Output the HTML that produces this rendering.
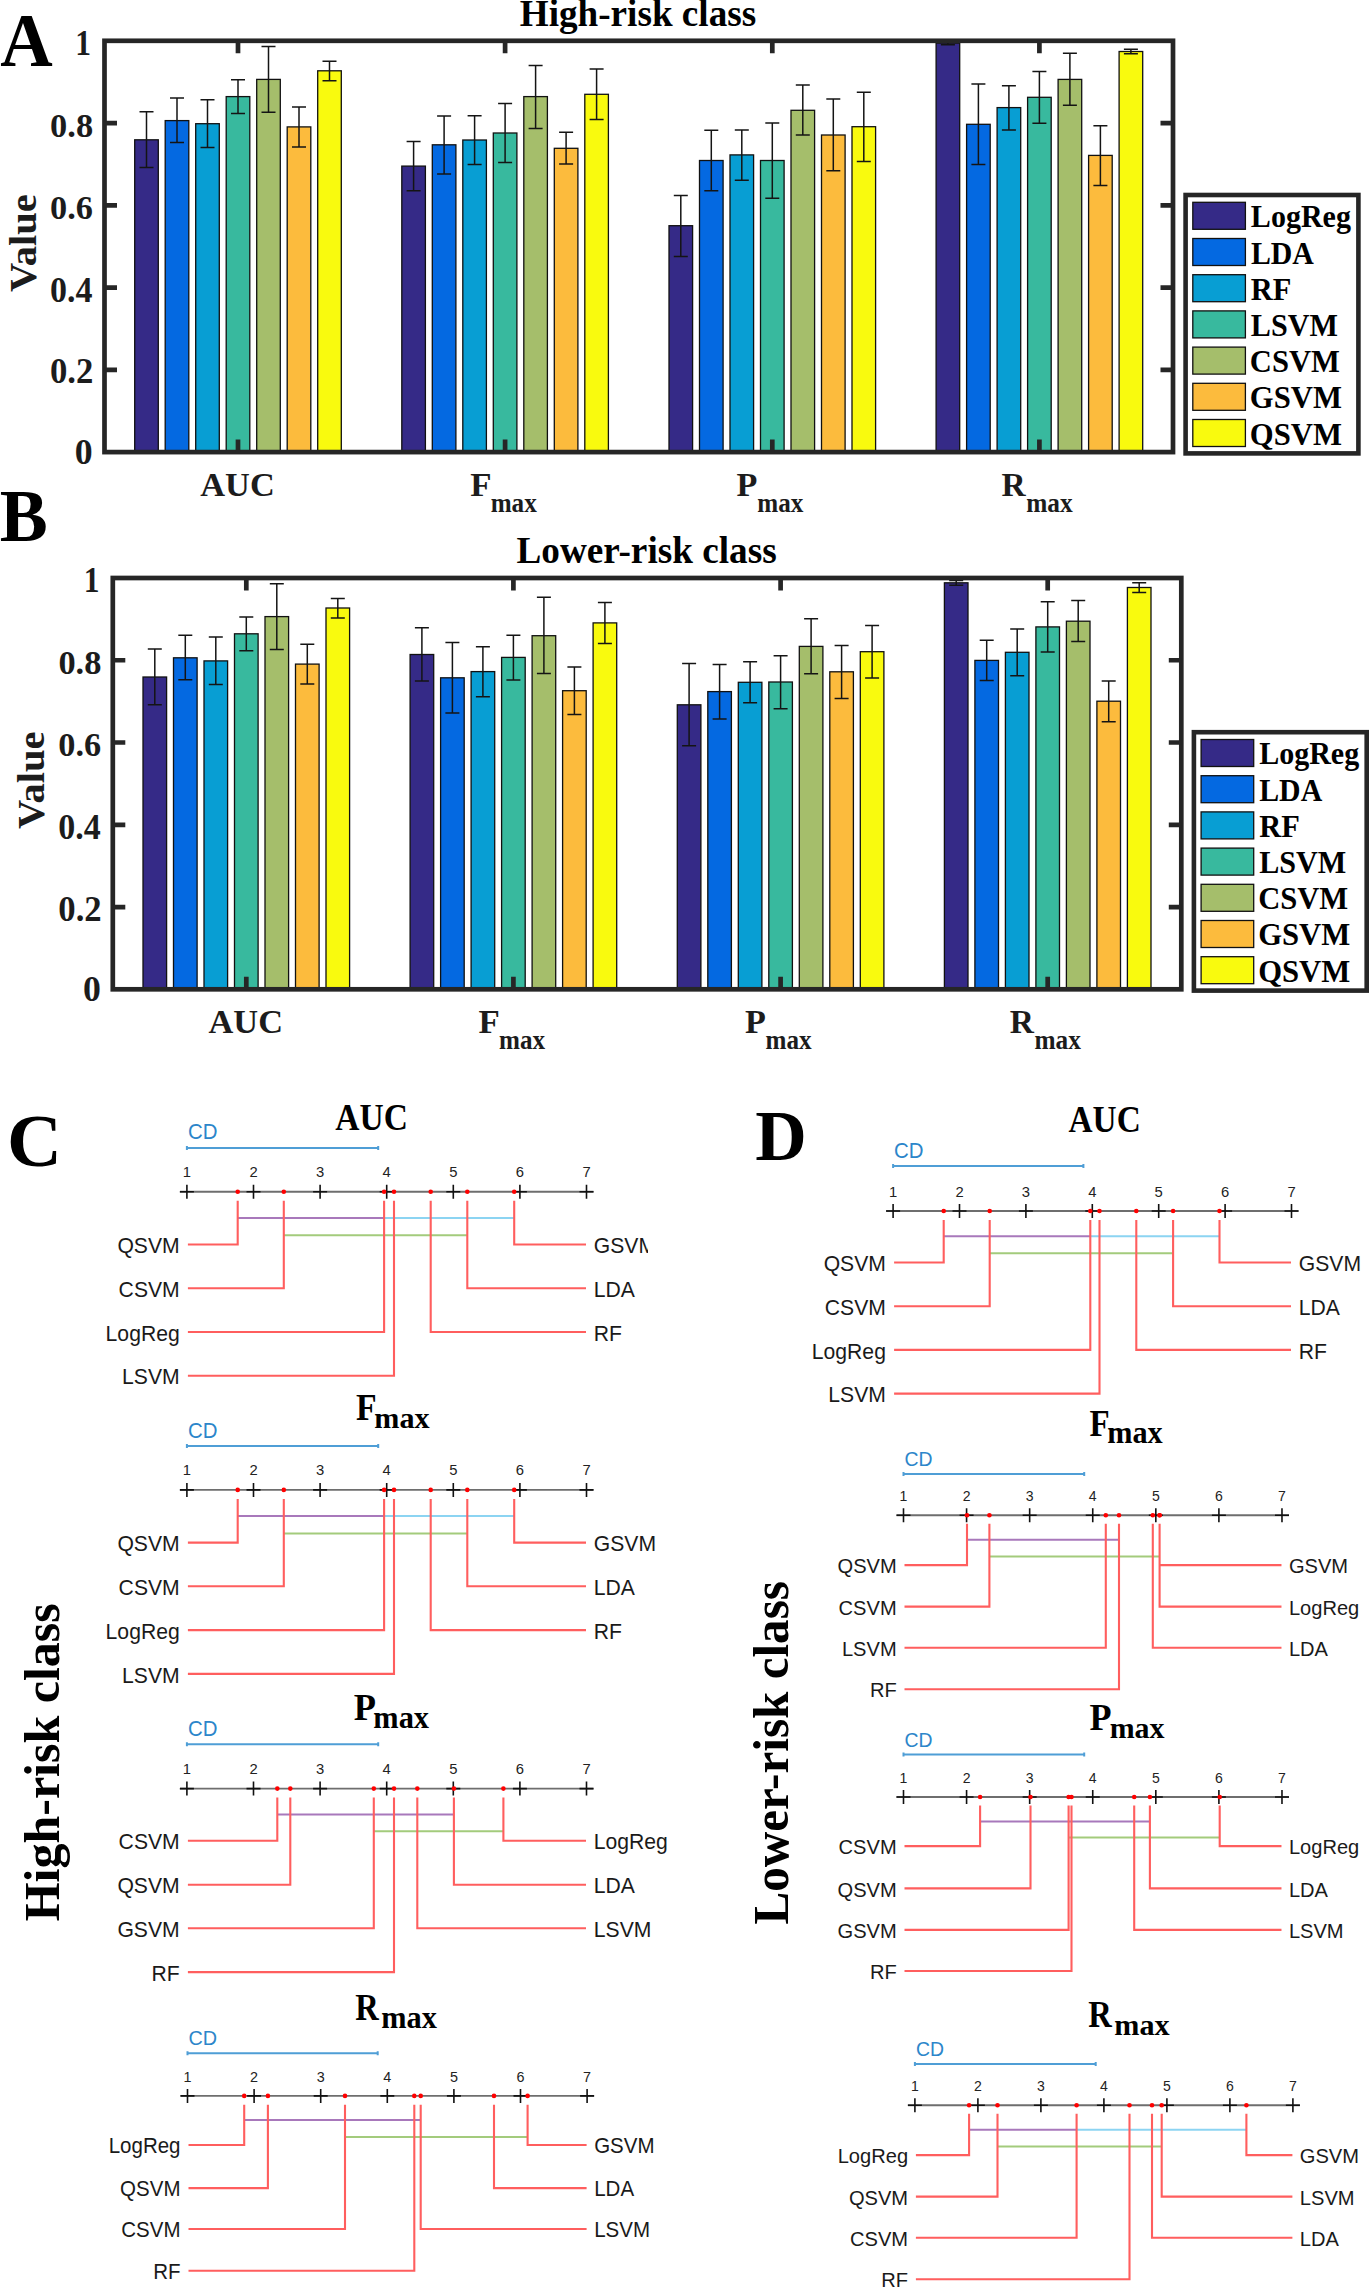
<!DOCTYPE html><html><head><meta charset="utf-8"><style>html,body{margin:0;padding:0;background:#fff;}svg{display:block;}</style></head><body>
<svg width="1370" height="2289" viewBox="0 0 1370 2289">
<defs><clipPath id="clipC"><rect x="0" y="1080" width="648" height="320"/></clipPath></defs>
<rect width="1370" height="2289" fill="#fff"/>
<text x="0.17" y="65.8" font-family='"Liberation Serif", serif' font-size="75.61" font-weight="bold" text-anchor="start" fill="#000" textLength="52.45" lengthAdjust="spacingAndGlyphs">A</text>
<text x="-0.16" y="541.2" font-family='"Liberation Serif", serif' font-size="74.05" font-weight="bold" text-anchor="start" fill="#000" textLength="48" lengthAdjust="spacingAndGlyphs">B</text>
<g transform="translate(0,0)">
<rect x="134.7" y="139.8" width="23.6" height="312.3" fill="#352a87" stroke="#111" stroke-width="1.3"/>
<rect x="165.2" y="120.6" width="23.6" height="331.5" fill="#0469e1" stroke="#111" stroke-width="1.3"/>
<rect x="195.7" y="123.7" width="23.6" height="328.4" fill="#089ed3" stroke="#111" stroke-width="1.3"/>
<rect x="226.2" y="96.6" width="23.6" height="355.5" fill="#38b99e" stroke="#111" stroke-width="1.3"/>
<rect x="256.7" y="79.4" width="23.6" height="372.7" fill="#a5be6b" stroke="#111" stroke-width="1.3"/>
<rect x="287.2" y="126.9" width="23.6" height="325.2" fill="#fcbb3d" stroke="#111" stroke-width="1.3"/>
<rect x="317.7" y="70.8" width="23.6" height="381.3" fill="#f9fa0e" stroke="#111" stroke-width="1.3"/>
<path d="M146.5 111.8V167.5M139.5 111.8H153.5M139.5 167.5H153.5" stroke="#141414" stroke-width="1.5" fill="none"/>
<path d="M177 98V142.6M170 98H184M170 142.6H184" stroke="#141414" stroke-width="1.5" fill="none"/>
<path d="M207.5 99.7V147.4M200.5 99.7H214.5M200.5 147.4H214.5" stroke="#141414" stroke-width="1.5" fill="none"/>
<path d="M238 79.8V113.6M231 79.8H245M231 113.6H245" stroke="#141414" stroke-width="1.5" fill="none"/>
<path d="M268.5 46.5V112.3M261.5 46.5H275.5M261.5 112.3H275.5" stroke="#141414" stroke-width="1.5" fill="none"/>
<path d="M299 107.1V146.9M292 107.1H306M292 146.9H306" stroke="#141414" stroke-width="1.5" fill="none"/>
<path d="M329.5 61.2V80.8M322.5 61.2H336.5M322.5 80.8H336.5" stroke="#141414" stroke-width="1.5" fill="none"/>
<rect x="401.8" y="166.1" width="23.6" height="286" fill="#352a87" stroke="#111" stroke-width="1.3"/>
<rect x="432.3" y="144.8" width="23.6" height="307.3" fill="#0469e1" stroke="#111" stroke-width="1.3"/>
<rect x="462.8" y="140" width="23.6" height="312.1" fill="#089ed3" stroke="#111" stroke-width="1.3"/>
<rect x="493.3" y="133" width="23.6" height="319.1" fill="#38b99e" stroke="#111" stroke-width="1.3"/>
<rect x="523.8" y="96.6" width="23.6" height="355.5" fill="#a5be6b" stroke="#111" stroke-width="1.3"/>
<rect x="554.3" y="148.3" width="23.6" height="303.8" fill="#fcbb3d" stroke="#111" stroke-width="1.3"/>
<rect x="584.8" y="94.3" width="23.6" height="357.8" fill="#f9fa0e" stroke="#111" stroke-width="1.3"/>
<path d="M413.6 141.6V190.7M406.6 141.6H420.6M406.6 190.7H420.6" stroke="#141414" stroke-width="1.5" fill="none"/>
<path d="M444.1 115.9V174M437.1 115.9H451.1M437.1 174H451.1" stroke="#141414" stroke-width="1.5" fill="none"/>
<path d="M474.6 115.7V164.4M467.6 115.7H481.6M467.6 164.4H481.6" stroke="#141414" stroke-width="1.5" fill="none"/>
<path d="M505.1 103.4V162.6M498.1 103.4H512.1M498.1 162.6H512.1" stroke="#141414" stroke-width="1.5" fill="none"/>
<path d="M535.6 65.4V128.5M528.6 65.4H542.6M528.6 128.5H542.6" stroke="#141414" stroke-width="1.5" fill="none"/>
<path d="M566.1 132.3V163.9M559.1 132.3H573.1M559.1 163.9H573.1" stroke="#141414" stroke-width="1.5" fill="none"/>
<path d="M596.6 68.9V119.4M589.6 68.9H603.6M589.6 119.4H603.6" stroke="#141414" stroke-width="1.5" fill="none"/>
<rect x="669" y="225.7" width="23.6" height="226.4" fill="#352a87" stroke="#111" stroke-width="1.3"/>
<rect x="699.5" y="160.5" width="23.6" height="291.6" fill="#0469e1" stroke="#111" stroke-width="1.3"/>
<rect x="730" y="154.9" width="23.6" height="297.2" fill="#089ed3" stroke="#111" stroke-width="1.3"/>
<rect x="760.5" y="160.5" width="23.6" height="291.6" fill="#38b99e" stroke="#111" stroke-width="1.3"/>
<rect x="791" y="110.3" width="23.6" height="341.8" fill="#a5be6b" stroke="#111" stroke-width="1.3"/>
<rect x="821.5" y="135" width="23.6" height="317.1" fill="#fcbb3d" stroke="#111" stroke-width="1.3"/>
<rect x="852" y="126.7" width="23.6" height="325.4" fill="#f9fa0e" stroke="#111" stroke-width="1.3"/>
<path d="M680.8 195.4V256.4M673.8 195.4H687.8M673.8 256.4H687.8" stroke="#141414" stroke-width="1.5" fill="none"/>
<path d="M711.3 130.2V190.7M704.3 130.2H718.3M704.3 190.7H718.3" stroke="#141414" stroke-width="1.5" fill="none"/>
<path d="M741.8 129.9V180.2M734.8 129.9H748.8M734.8 180.2H748.8" stroke="#141414" stroke-width="1.5" fill="none"/>
<path d="M772.3 123V198.2M765.3 123H779.3M765.3 198.2H779.3" stroke="#141414" stroke-width="1.5" fill="none"/>
<path d="M802.8 85V135.1M795.8 85H809.8M795.8 135.1H809.8" stroke="#141414" stroke-width="1.5" fill="none"/>
<path d="M833.3 99V170.7M826.3 99H840.3M826.3 170.7H840.3" stroke="#141414" stroke-width="1.5" fill="none"/>
<path d="M863.8 92.2V161.4M856.8 92.2H870.8M856.8 161.4H870.8" stroke="#141414" stroke-width="1.5" fill="none"/>
<rect x="936.1" y="43.1" width="23.6" height="409" fill="#352a87" stroke="#111" stroke-width="1.3"/>
<rect x="966.6" y="124.3" width="23.6" height="327.8" fill="#0469e1" stroke="#111" stroke-width="1.3"/>
<rect x="997.1" y="107.6" width="23.6" height="344.5" fill="#089ed3" stroke="#111" stroke-width="1.3"/>
<rect x="1027.6" y="97.3" width="23.6" height="354.8" fill="#38b99e" stroke="#111" stroke-width="1.3"/>
<rect x="1058.1" y="79.4" width="23.6" height="372.7" fill="#a5be6b" stroke="#111" stroke-width="1.3"/>
<rect x="1088.6" y="155.4" width="23.6" height="296.7" fill="#fcbb3d" stroke="#111" stroke-width="1.3"/>
<rect x="1119.1" y="51.5" width="23.6" height="400.6" fill="#f9fa0e" stroke="#111" stroke-width="1.3"/>
<path d="M947.9 41.5V44.8M940.9 41.5H954.9M940.9 44.8H954.9" stroke="#141414" stroke-width="1.5" fill="none"/>
<path d="M978.4 84.1V164.4M971.4 84.1H985.4M971.4 164.4H985.4" stroke="#141414" stroke-width="1.5" fill="none"/>
<path d="M1008.9 85.7V129.9M1001.9 85.7H1015.9M1001.9 129.9H1015.9" stroke="#141414" stroke-width="1.5" fill="none"/>
<path d="M1039.4 71.5V123.2M1032.4 71.5H1046.4M1032.4 123.2H1046.4" stroke="#141414" stroke-width="1.5" fill="none"/>
<path d="M1069.9 53.3V105.3M1062.9 53.3H1076.9M1062.9 105.3H1076.9" stroke="#141414" stroke-width="1.5" fill="none"/>
<path d="M1100.4 125.7V185.4M1093.4 125.7H1107.4M1093.4 185.4H1107.4" stroke="#141414" stroke-width="1.5" fill="none"/>
<path d="M1130.9 49.3V53.7M1123.9 49.3H1137.9M1123.9 53.7H1137.9" stroke="#141414" stroke-width="1.5" fill="none"/>
<rect x="104.5" y="40.8" width="1068.5" height="411.3" fill="none" stroke="#262626" stroke-width="4.7"/>
<path d="M104.5 369.84H117M1173 369.84H1160.5M104.5 287.58H117M1173 287.58H1160.5M104.5 205.32H117M1173 205.32H1160.5M104.5 123.06H117M1173 123.06H1160.5M238 40.8V53.3M238 452.1V439.6M505.1 40.8V53.3M505.1 452.1V439.6M772.3 40.8V53.3M772.3 452.1V439.6M1039.4 40.8V53.3M1039.4 452.1V439.6" stroke="#262626" stroke-width="4.7" fill="none"/>
<text x="74.66" y="463.8" font-family='"Liberation Serif", serif' font-size="36.09" font-weight="bold" text-anchor="start" fill="#1c1c1c" textLength="17.88" lengthAdjust="spacingAndGlyphs">0</text>
<text x="50" y="383.4" font-family='"Liberation Serif", serif' font-size="35.34" font-weight="bold" text-anchor="start" fill="#1c1c1c" textLength="43.38" lengthAdjust="spacingAndGlyphs">0.2</text>
<text x="50.03" y="301.6" font-family='"Liberation Serif", serif' font-size="35.19" font-weight="bold" text-anchor="start" fill="#1c1c1c" textLength="42.47" lengthAdjust="spacingAndGlyphs">0.4</text>
<text x="50.01" y="218.6" font-family='"Liberation Serif", serif' font-size="34.29" font-weight="bold" text-anchor="start" fill="#1c1c1c" textLength="42.92" lengthAdjust="spacingAndGlyphs">0.6</text>
<text x="50.11" y="136.5" font-family='"Liberation Serif", serif' font-size="33.98" font-weight="bold" text-anchor="start" fill="#1c1c1c" textLength="43.01" lengthAdjust="spacingAndGlyphs">0.8</text>
<text x="75.37" y="54.8" font-family='"Liberation Serif", serif' font-size="35.91" font-weight="bold" text-anchor="start" fill="#1c1c1c" textLength="15.78" lengthAdjust="spacingAndGlyphs">1</text>
<text transform="translate(35.5,291.5) rotate(-90)" x="-0.41" y="0" font-family='"Liberation Serif", serif' font-size="37.41" font-weight="bold" fill="#1c1c1c" textLength="97.75" lengthAdjust="spacingAndGlyphs">Value</text>
<text x="200.26" y="495.8" font-family='"Liberation Serif", serif' font-size="34.39" font-weight="bold" text-anchor="start" fill="#1c1c1c" textLength="74.48" lengthAdjust="spacingAndGlyphs">AUC</text>
<text x="470.29" y="495.8" font-family='"Liberation Serif", serif' font-size="34.66" font-weight="bold" text-anchor="start" fill="#1c1c1c" textLength="21.3" lengthAdjust="spacingAndGlyphs">F</text>
<text x="490.71" y="511.8" font-family='"Liberation Serif", serif' font-size="26.38" font-weight="bold" text-anchor="start" fill="#1c1c1c" textLength="46.03" lengthAdjust="spacingAndGlyphs">max</text>
<text x="736.6" y="495.8" font-family='"Liberation Serif", serif' font-size="34.66" font-weight="bold" text-anchor="start" fill="#1c1c1c" textLength="20.87" lengthAdjust="spacingAndGlyphs">P</text>
<text x="757.31" y="511.8" font-family='"Liberation Serif", serif' font-size="26.38" font-weight="bold" text-anchor="start" fill="#1c1c1c" textLength="46.03" lengthAdjust="spacingAndGlyphs">max</text>
<text x="1001.42" y="495.8" font-family='"Liberation Serif", serif' font-size="34.66" font-weight="bold" text-anchor="start" fill="#1c1c1c" textLength="24.12" lengthAdjust="spacingAndGlyphs">R</text>
<text x="1026.2" y="511.8" font-family='"Liberation Serif", serif' font-size="26.38" font-weight="bold" text-anchor="start" fill="#1c1c1c" textLength="46.44" lengthAdjust="spacingAndGlyphs">max</text>
<rect x="1185.6" y="195" width="172.8" height="258.4" fill="#fff" stroke="#262626" stroke-width="4.6"/>
<rect x="1192.8" y="202.3" width="52.6" height="27" fill="#352a87" stroke="#111" stroke-width="1.3"/>
<text x="1250.87" y="227.3" font-family='"Liberation Serif", serif' font-size="30.99" font-weight="bold" text-anchor="start" fill="#000" textLength="100.04" lengthAdjust="spacingAndGlyphs">LogReg</text>
<rect x="1192.8" y="238.5" width="52.6" height="27" fill="#0469e1" stroke="#111" stroke-width="1.3"/>
<text x="1250.88" y="263.5" font-family='"Liberation Serif", serif' font-size="30.99" font-weight="bold" text-anchor="start" fill="#000" textLength="63.01" lengthAdjust="spacingAndGlyphs">LDA</text>
<rect x="1192.8" y="274.7" width="52.6" height="27" fill="#089ed3" stroke="#111" stroke-width="1.3"/>
<text x="1250.87" y="299.7" font-family='"Liberation Serif", serif' font-size="30.99" font-weight="bold" text-anchor="start" fill="#000" textLength="40.6" lengthAdjust="spacingAndGlyphs">RF</text>
<rect x="1192.8" y="310.9" width="52.6" height="27" fill="#38b99e" stroke="#111" stroke-width="1.3"/>
<text x="1250.87" y="335.9" font-family='"Liberation Serif", serif' font-size="30.99" font-weight="bold" text-anchor="start" fill="#000" textLength="87.01" lengthAdjust="spacingAndGlyphs">LSVM</text>
<rect x="1192.8" y="347.1" width="52.6" height="27" fill="#a5be6b" stroke="#111" stroke-width="1.3"/>
<text x="1249.87" y="372.1" font-family='"Liberation Serif", serif' font-size="30.99" font-weight="bold" text-anchor="start" fill="#000" textLength="90.03" lengthAdjust="spacingAndGlyphs">CSVM</text>
<rect x="1192.8" y="383.3" width="52.6" height="27" fill="#fcbb3d" stroke="#111" stroke-width="1.3"/>
<text x="1249.87" y="408.3" font-family='"Liberation Serif", serif' font-size="30.99" font-weight="bold" text-anchor="start" fill="#000" textLength="92.06" lengthAdjust="spacingAndGlyphs">GSVM</text>
<rect x="1192.8" y="419.5" width="52.6" height="27" fill="#f9fa0e" stroke="#111" stroke-width="1.3"/>
<text x="1249.87" y="444.5" font-family='"Liberation Serif", serif' font-size="30.99" font-weight="bold" text-anchor="start" fill="#000" textLength="92.06" lengthAdjust="spacingAndGlyphs">QSVM</text>
</g>
<g transform="translate(8.3,537.2)">
<rect x="134.7" y="139.8" width="23.6" height="312.3" fill="#352a87" stroke="#111" stroke-width="1.3"/>
<rect x="165.2" y="120.6" width="23.6" height="331.5" fill="#0469e1" stroke="#111" stroke-width="1.3"/>
<rect x="195.7" y="123.7" width="23.6" height="328.4" fill="#089ed3" stroke="#111" stroke-width="1.3"/>
<rect x="226.2" y="96.6" width="23.6" height="355.5" fill="#38b99e" stroke="#111" stroke-width="1.3"/>
<rect x="256.7" y="79.4" width="23.6" height="372.7" fill="#a5be6b" stroke="#111" stroke-width="1.3"/>
<rect x="287.2" y="126.9" width="23.6" height="325.2" fill="#fcbb3d" stroke="#111" stroke-width="1.3"/>
<rect x="317.7" y="70.8" width="23.6" height="381.3" fill="#f9fa0e" stroke="#111" stroke-width="1.3"/>
<path d="M146.5 111.8V167.5M139.5 111.8H153.5M139.5 167.5H153.5" stroke="#141414" stroke-width="1.5" fill="none"/>
<path d="M177 98V142.6M170 98H184M170 142.6H184" stroke="#141414" stroke-width="1.5" fill="none"/>
<path d="M207.5 99.7V147.4M200.5 99.7H214.5M200.5 147.4H214.5" stroke="#141414" stroke-width="1.5" fill="none"/>
<path d="M238 79.8V113.6M231 79.8H245M231 113.6H245" stroke="#141414" stroke-width="1.5" fill="none"/>
<path d="M268.5 46.5V112.3M261.5 46.5H275.5M261.5 112.3H275.5" stroke="#141414" stroke-width="1.5" fill="none"/>
<path d="M299 107.1V146.9M292 107.1H306M292 146.9H306" stroke="#141414" stroke-width="1.5" fill="none"/>
<path d="M329.5 61.2V80.8M322.5 61.2H336.5M322.5 80.8H336.5" stroke="#141414" stroke-width="1.5" fill="none"/>
<rect x="401.8" y="117.3" width="23.6" height="334.8" fill="#352a87" stroke="#111" stroke-width="1.3"/>
<rect x="432.3" y="140.6" width="23.6" height="311.5" fill="#0469e1" stroke="#111" stroke-width="1.3"/>
<rect x="462.8" y="134.4" width="23.6" height="317.7" fill="#089ed3" stroke="#111" stroke-width="1.3"/>
<rect x="493.3" y="120.2" width="23.6" height="331.9" fill="#38b99e" stroke="#111" stroke-width="1.3"/>
<rect x="523.8" y="98.5" width="23.6" height="353.6" fill="#a5be6b" stroke="#111" stroke-width="1.3"/>
<rect x="554.3" y="153.5" width="23.6" height="298.6" fill="#fcbb3d" stroke="#111" stroke-width="1.3"/>
<rect x="584.8" y="85.7" width="23.6" height="366.4" fill="#f9fa0e" stroke="#111" stroke-width="1.3"/>
<path d="M413.6 90.6V143.9M406.6 90.6H420.6M406.6 143.9H420.6" stroke="#141414" stroke-width="1.5" fill="none"/>
<path d="M444.1 105.3V175.9M437.1 105.3H451.1M437.1 175.9H451.1" stroke="#141414" stroke-width="1.5" fill="none"/>
<path d="M474.6 109.5V159.5M467.6 109.5H481.6M467.6 159.5H481.6" stroke="#141414" stroke-width="1.5" fill="none"/>
<path d="M505.1 98V142.7M498.1 98H512.1M498.1 142.7H512.1" stroke="#141414" stroke-width="1.5" fill="none"/>
<path d="M535.6 60.1V136.2M528.6 60.1H542.6M528.6 136.2H542.6" stroke="#141414" stroke-width="1.5" fill="none"/>
<path d="M566.1 129.9V177.2M559.1 129.9H573.1M559.1 177.2H573.1" stroke="#141414" stroke-width="1.5" fill="none"/>
<path d="M596.6 65.4V106.2M589.6 65.4H603.6M589.6 106.2H603.6" stroke="#141414" stroke-width="1.5" fill="none"/>
<rect x="669" y="167.6" width="23.6" height="284.5" fill="#352a87" stroke="#111" stroke-width="1.3"/>
<rect x="699.5" y="154.4" width="23.6" height="297.7" fill="#0469e1" stroke="#111" stroke-width="1.3"/>
<rect x="730" y="145.1" width="23.6" height="307" fill="#089ed3" stroke="#111" stroke-width="1.3"/>
<rect x="760.5" y="144.8" width="23.6" height="307.3" fill="#38b99e" stroke="#111" stroke-width="1.3"/>
<rect x="791" y="109.2" width="23.6" height="342.9" fill="#a5be6b" stroke="#111" stroke-width="1.3"/>
<rect x="821.5" y="134.6" width="23.6" height="317.5" fill="#fcbb3d" stroke="#111" stroke-width="1.3"/>
<rect x="852" y="114.5" width="23.6" height="337.6" fill="#f9fa0e" stroke="#111" stroke-width="1.3"/>
<path d="M680.8 126.4V208.6M673.8 126.4H687.8M673.8 208.6H687.8" stroke="#141414" stroke-width="1.5" fill="none"/>
<path d="M711.3 127.3V181.9M704.3 127.3H718.3M704.3 181.9H718.3" stroke="#141414" stroke-width="1.5" fill="none"/>
<path d="M741.8 124.6V165.6M734.8 124.6H748.8M734.8 165.6H748.8" stroke="#141414" stroke-width="1.5" fill="none"/>
<path d="M772.3 118.5V171.6M765.3 118.5H779.3M765.3 171.6H779.3" stroke="#141414" stroke-width="1.5" fill="none"/>
<path d="M802.8 81.5V136.6M795.8 81.5H809.8M795.8 136.6H809.8" stroke="#141414" stroke-width="1.5" fill="none"/>
<path d="M833.3 108.2V161.4M826.3 108.2H840.3M826.3 161.4H840.3" stroke="#141414" stroke-width="1.5" fill="none"/>
<path d="M863.8 88.2V140.8M856.8 88.2H870.8M856.8 140.8H870.8" stroke="#141414" stroke-width="1.5" fill="none"/>
<rect x="936.1" y="45.6" width="23.6" height="406.5" fill="#352a87" stroke="#111" stroke-width="1.3"/>
<rect x="966.6" y="123.2" width="23.6" height="328.9" fill="#0469e1" stroke="#111" stroke-width="1.3"/>
<rect x="997.1" y="115.1" width="23.6" height="337" fill="#089ed3" stroke="#111" stroke-width="1.3"/>
<rect x="1027.6" y="89.7" width="23.6" height="362.4" fill="#38b99e" stroke="#111" stroke-width="1.3"/>
<rect x="1058.1" y="84" width="23.6" height="368.1" fill="#a5be6b" stroke="#111" stroke-width="1.3"/>
<rect x="1088.6" y="164" width="23.6" height="288.1" fill="#fcbb3d" stroke="#111" stroke-width="1.3"/>
<rect x="1119.1" y="50.3" width="23.6" height="401.8" fill="#f9fa0e" stroke="#111" stroke-width="1.3"/>
<path d="M947.9 43.3V48M940.9 43.3H954.9M940.9 48H954.9" stroke="#141414" stroke-width="1.5" fill="none"/>
<path d="M978.4 103.1V143.2M971.4 103.1H985.4M971.4 143.2H985.4" stroke="#141414" stroke-width="1.5" fill="none"/>
<path d="M1008.9 91.7V138.6M1001.9 91.7H1015.9M1001.9 138.6H1015.9" stroke="#141414" stroke-width="1.5" fill="none"/>
<path d="M1039.4 64.5V114.8M1032.4 64.5H1046.4M1032.4 114.8H1046.4" stroke="#141414" stroke-width="1.5" fill="none"/>
<path d="M1069.9 63.3V104.3M1062.9 63.3H1076.9M1062.9 104.3H1076.9" stroke="#141414" stroke-width="1.5" fill="none"/>
<path d="M1100.4 143.7V184.5M1093.4 143.7H1107.4M1093.4 184.5H1107.4" stroke="#141414" stroke-width="1.5" fill="none"/>
<path d="M1130.9 45.6V55.2M1123.9 45.6H1137.9M1123.9 55.2H1137.9" stroke="#141414" stroke-width="1.5" fill="none"/>
<rect x="104.5" y="40.8" width="1068.5" height="411.3" fill="none" stroke="#262626" stroke-width="4.7"/>
<path d="M104.5 369.84H117M1173 369.84H1160.5M104.5 287.58H117M1173 287.58H1160.5M104.5 205.32H117M1173 205.32H1160.5M104.5 123.06H117M1173 123.06H1160.5M238 40.8V53.3M238 452.1V439.6M505.1 40.8V53.3M505.1 452.1V439.6M772.3 40.8V53.3M772.3 452.1V439.6M1039.4 40.8V53.3M1039.4 452.1V439.6" stroke="#262626" stroke-width="4.7" fill="none"/>
<text x="74.66" y="463.8" font-family='"Liberation Serif", serif' font-size="36.09" font-weight="bold" text-anchor="start" fill="#1c1c1c" textLength="17.88" lengthAdjust="spacingAndGlyphs">0</text>
<text x="50" y="383.4" font-family='"Liberation Serif", serif' font-size="35.34" font-weight="bold" text-anchor="start" fill="#1c1c1c" textLength="43.38" lengthAdjust="spacingAndGlyphs">0.2</text>
<text x="50.03" y="301.6" font-family='"Liberation Serif", serif' font-size="35.19" font-weight="bold" text-anchor="start" fill="#1c1c1c" textLength="42.47" lengthAdjust="spacingAndGlyphs">0.4</text>
<text x="50.01" y="218.6" font-family='"Liberation Serif", serif' font-size="34.29" font-weight="bold" text-anchor="start" fill="#1c1c1c" textLength="42.92" lengthAdjust="spacingAndGlyphs">0.6</text>
<text x="50.11" y="136.5" font-family='"Liberation Serif", serif' font-size="33.98" font-weight="bold" text-anchor="start" fill="#1c1c1c" textLength="43.01" lengthAdjust="spacingAndGlyphs">0.8</text>
<text x="75.37" y="54.8" font-family='"Liberation Serif", serif' font-size="35.91" font-weight="bold" text-anchor="start" fill="#1c1c1c" textLength="15.78" lengthAdjust="spacingAndGlyphs">1</text>
<text transform="translate(35.5,291.5) rotate(-90)" x="-0.41" y="0" font-family='"Liberation Serif", serif' font-size="37.41" font-weight="bold" fill="#1c1c1c" textLength="97.75" lengthAdjust="spacingAndGlyphs">Value</text>
<text x="200.26" y="495.8" font-family='"Liberation Serif", serif' font-size="34.39" font-weight="bold" text-anchor="start" fill="#1c1c1c" textLength="74.48" lengthAdjust="spacingAndGlyphs">AUC</text>
<text x="470.29" y="495.8" font-family='"Liberation Serif", serif' font-size="34.66" font-weight="bold" text-anchor="start" fill="#1c1c1c" textLength="21.3" lengthAdjust="spacingAndGlyphs">F</text>
<text x="490.71" y="511.8" font-family='"Liberation Serif", serif' font-size="26.38" font-weight="bold" text-anchor="start" fill="#1c1c1c" textLength="46.03" lengthAdjust="spacingAndGlyphs">max</text>
<text x="736.6" y="495.8" font-family='"Liberation Serif", serif' font-size="34.66" font-weight="bold" text-anchor="start" fill="#1c1c1c" textLength="20.87" lengthAdjust="spacingAndGlyphs">P</text>
<text x="757.31" y="511.8" font-family='"Liberation Serif", serif' font-size="26.38" font-weight="bold" text-anchor="start" fill="#1c1c1c" textLength="46.03" lengthAdjust="spacingAndGlyphs">max</text>
<text x="1001.42" y="495.8" font-family='"Liberation Serif", serif' font-size="34.66" font-weight="bold" text-anchor="start" fill="#1c1c1c" textLength="24.12" lengthAdjust="spacingAndGlyphs">R</text>
<text x="1026.2" y="511.8" font-family='"Liberation Serif", serif' font-size="26.38" font-weight="bold" text-anchor="start" fill="#1c1c1c" textLength="46.44" lengthAdjust="spacingAndGlyphs">max</text>
<rect x="1185.6" y="195" width="172.8" height="258.4" fill="#fff" stroke="#262626" stroke-width="4.6"/>
<rect x="1192.8" y="202.3" width="52.6" height="27" fill="#352a87" stroke="#111" stroke-width="1.3"/>
<text x="1250.87" y="227.3" font-family='"Liberation Serif", serif' font-size="30.99" font-weight="bold" text-anchor="start" fill="#000" textLength="100.04" lengthAdjust="spacingAndGlyphs">LogReg</text>
<rect x="1192.8" y="238.5" width="52.6" height="27" fill="#0469e1" stroke="#111" stroke-width="1.3"/>
<text x="1250.88" y="263.5" font-family='"Liberation Serif", serif' font-size="30.99" font-weight="bold" text-anchor="start" fill="#000" textLength="63.01" lengthAdjust="spacingAndGlyphs">LDA</text>
<rect x="1192.8" y="274.7" width="52.6" height="27" fill="#089ed3" stroke="#111" stroke-width="1.3"/>
<text x="1250.87" y="299.7" font-family='"Liberation Serif", serif' font-size="30.99" font-weight="bold" text-anchor="start" fill="#000" textLength="40.6" lengthAdjust="spacingAndGlyphs">RF</text>
<rect x="1192.8" y="310.9" width="52.6" height="27" fill="#38b99e" stroke="#111" stroke-width="1.3"/>
<text x="1250.87" y="335.9" font-family='"Liberation Serif", serif' font-size="30.99" font-weight="bold" text-anchor="start" fill="#000" textLength="87.01" lengthAdjust="spacingAndGlyphs">LSVM</text>
<rect x="1192.8" y="347.1" width="52.6" height="27" fill="#a5be6b" stroke="#111" stroke-width="1.3"/>
<text x="1249.87" y="372.1" font-family='"Liberation Serif", serif' font-size="30.99" font-weight="bold" text-anchor="start" fill="#000" textLength="90.03" lengthAdjust="spacingAndGlyphs">CSVM</text>
<rect x="1192.8" y="383.3" width="52.6" height="27" fill="#fcbb3d" stroke="#111" stroke-width="1.3"/>
<text x="1249.87" y="408.3" font-family='"Liberation Serif", serif' font-size="30.99" font-weight="bold" text-anchor="start" fill="#000" textLength="92.06" lengthAdjust="spacingAndGlyphs">GSVM</text>
<rect x="1192.8" y="419.5" width="52.6" height="27" fill="#f9fa0e" stroke="#111" stroke-width="1.3"/>
<text x="1249.87" y="444.5" font-family='"Liberation Serif", serif' font-size="30.99" font-weight="bold" text-anchor="start" fill="#000" textLength="92.06" lengthAdjust="spacingAndGlyphs">QSVM</text>
</g>
<text x="519.75" y="26.1" font-family='"Liberation Serif", serif' font-size="38.17" font-weight="bold" text-anchor="start" fill="#000" textLength="236.46" lengthAdjust="spacingAndGlyphs">High-risk class</text>
<text x="516.45" y="563.2" font-family='"Liberation Serif", serif' font-size="38.47" font-weight="bold" text-anchor="start" fill="#000" textLength="260.28" lengthAdjust="spacingAndGlyphs">Lower-risk class</text>
<text x="6.99" y="1165.6" font-family='"Liberation Serif", serif' font-size="73.66" font-weight="bold" text-anchor="start" fill="#000" textLength="54.98" lengthAdjust="spacingAndGlyphs">C</text>
<text x="755.15" y="1159.7" font-family='"Liberation Serif", serif' font-size="72.82" font-weight="bold" text-anchor="start" fill="#000" textLength="51.49" lengthAdjust="spacingAndGlyphs">D</text>
<text transform="translate(58.5,1762.3) rotate(-90)" font-family='"Liberation Serif", serif' font-size="51" font-weight="bold" text-anchor="middle" fill="#000" textLength="318" lengthAdjust="spacingAndGlyphs">High-risk class</text>
<text transform="translate(788,1752.8) rotate(-90)" font-family='"Liberation Serif", serif' font-size="51" font-weight="bold" text-anchor="middle" fill="#000" textLength="343.5" lengthAdjust="spacingAndGlyphs">Lower-risk class</text>
<g clip-path="url(#clipC)">
<text x="335.36" y="1130" font-family='"Liberation Serif", serif' font-size="38.49" font-weight="bold" text-anchor="start" fill="#000" textLength="72.6" lengthAdjust="spacingAndGlyphs">AUC</text>
<path d="M186.9 1147.9H378.2M186.9 1145.9V1149.9M378.2 1145.9V1149.9" stroke="#4f9ed6" stroke-width="2" fill="none"/>
<text x="187.9" y="1139.4" font-family='"Liberation Sans", sans-serif' font-size="21.5" font-weight="normal" text-anchor="start" fill="#2c86ca" textLength="29.5" lengthAdjust="spacingAndGlyphs">CD</text>
<path d="M179.9 1191.8H593.5" stroke="#6e6e6e" stroke-width="1.9" fill="none"/>
<text x="186.9" y="1177.3" font-family='"Liberation Sans", sans-serif' font-size="14.8" font-weight="normal" text-anchor="middle" fill="#222">1</text>
<text x="253.5" y="1177.3" font-family='"Liberation Sans", sans-serif' font-size="14.8" font-weight="normal" text-anchor="middle" fill="#222">2</text>
<text x="320.1" y="1177.3" font-family='"Liberation Sans", sans-serif' font-size="14.8" font-weight="normal" text-anchor="middle" fill="#222">3</text>
<text x="386.7" y="1177.3" font-family='"Liberation Sans", sans-serif' font-size="14.8" font-weight="normal" text-anchor="middle" fill="#222">4</text>
<text x="453.3" y="1177.3" font-family='"Liberation Sans", sans-serif' font-size="14.8" font-weight="normal" text-anchor="middle" fill="#222">5</text>
<text x="519.9" y="1177.3" font-family='"Liberation Sans", sans-serif' font-size="14.8" font-weight="normal" text-anchor="middle" fill="#222">6</text>
<text x="586.5" y="1177.3" font-family='"Liberation Sans", sans-serif' font-size="14.8" font-weight="normal" text-anchor="middle" fill="#222">7</text>
<path d="M179.9 1191.8H193.9M186.9 1184.8V1198.8M246.5 1191.8H260.5M253.5 1184.8V1198.8M313.1 1191.8H327.1M320.1 1184.8V1198.8M379.7 1191.8H393.7M386.7 1184.8V1198.8M446.3 1191.8H460.3M453.3 1184.8V1198.8M512.9 1191.8H526.9M519.9 1184.8V1198.8M579.5 1191.8H593.5M586.5 1184.8V1198.8" stroke="#111" stroke-width="1.6" fill="none"/>
<path d="M237.7 1218H384.1" stroke="#a878bb" stroke-width="2.0" fill="none"/>
<path d="M384.1 1218H514.2" stroke="#8cd4f2" stroke-width="2.0" fill="none"/>
<path d="M283.8 1235.3H467.3" stroke="#a3cb7c" stroke-width="2.0" fill="none"/>
<text x="179.7" y="1253.1" font-family='"Liberation Sans", sans-serif' font-size="21.8" font-weight="normal" text-anchor="end" fill="#1a1a1a" textLength="62.27" lengthAdjust="spacingAndGlyphs">QSVM</text>
<text x="179.7" y="1296.8" font-family='"Liberation Sans", sans-serif' font-size="21.8" font-weight="normal" text-anchor="end" fill="#1a1a1a" textLength="61.09" lengthAdjust="spacingAndGlyphs">CSVM</text>
<text x="179.7" y="1340.6" font-family='"Liberation Sans", sans-serif' font-size="21.8" font-weight="normal" text-anchor="end" fill="#1a1a1a" textLength="74.08" lengthAdjust="spacingAndGlyphs">LogReg</text>
<text x="179.7" y="1384.4" font-family='"Liberation Sans", sans-serif' font-size="21.8" font-weight="normal" text-anchor="end" fill="#1a1a1a" textLength="57.58" lengthAdjust="spacingAndGlyphs">LSVM</text>
<text x="593.8" y="1253.1" font-family='"Liberation Sans", sans-serif' font-size="21.8" font-weight="normal" text-anchor="start" fill="#1a1a1a" textLength="62.27" lengthAdjust="spacingAndGlyphs">GSVM</text>
<text x="593.8" y="1296.8" font-family='"Liberation Sans", sans-serif' font-size="21.8" font-weight="normal" text-anchor="start" fill="#1a1a1a" textLength="41.14" lengthAdjust="spacingAndGlyphs">LDA</text>
<text x="593.8" y="1340.6" font-family='"Liberation Sans", sans-serif' font-size="21.8" font-weight="normal" text-anchor="start" fill="#1a1a1a" textLength="28.19" lengthAdjust="spacingAndGlyphs">RF</text>
<path d="M237.7 1200.8V1244.5H187.9M283.8 1200.8V1288.2H187.9M384.1 1200.8V1332H187.9M394 1200.8V1375.8H187.9M514.2 1200.8V1244.5H586M467.3 1200.8V1288.2H586M430.7 1200.8V1332H586" stroke="#ff5e5e" stroke-width="2.1" fill="none"/>
<circle cx="237.7" cy="1191.8" r="2.3" fill="#ff0000"/>
<circle cx="283.8" cy="1191.8" r="2.3" fill="#ff0000"/>
<circle cx="384.1" cy="1191.8" r="2.3" fill="#ff0000"/>
<circle cx="394" cy="1191.8" r="2.3" fill="#ff0000"/>
<circle cx="514.2" cy="1191.8" r="2.3" fill="#ff0000"/>
<circle cx="467.3" cy="1191.8" r="2.3" fill="#ff0000"/>
<circle cx="430.7" cy="1191.8" r="2.3" fill="#ff0000"/>
</g>
<text x="356.11" y="1419.8" font-family='"Liberation Serif", serif' font-size="37.71" font-weight="bold" text-anchor="start" fill="#000" textLength="20.62" lengthAdjust="spacingAndGlyphs">F</text>
<text x="374.27" y="1428.1" font-family='"Liberation Serif", serif' font-size="30.43" font-weight="bold" text-anchor="start" fill="#000" textLength="55.3" lengthAdjust="spacingAndGlyphs">max</text>
<path d="M186.9 1446H378.2M186.9 1444V1448M378.2 1444V1448" stroke="#4f9ed6" stroke-width="2" fill="none"/>
<text x="187.9" y="1437.5" font-family='"Liberation Sans", sans-serif' font-size="21.5" font-weight="normal" text-anchor="start" fill="#2c86ca" textLength="29.5" lengthAdjust="spacingAndGlyphs">CD</text>
<path d="M179.9 1489.9H593.5" stroke="#6e6e6e" stroke-width="1.9" fill="none"/>
<text x="186.9" y="1475.4" font-family='"Liberation Sans", sans-serif' font-size="14.8" font-weight="normal" text-anchor="middle" fill="#222">1</text>
<text x="253.5" y="1475.4" font-family='"Liberation Sans", sans-serif' font-size="14.8" font-weight="normal" text-anchor="middle" fill="#222">2</text>
<text x="320.1" y="1475.4" font-family='"Liberation Sans", sans-serif' font-size="14.8" font-weight="normal" text-anchor="middle" fill="#222">3</text>
<text x="386.7" y="1475.4" font-family='"Liberation Sans", sans-serif' font-size="14.8" font-weight="normal" text-anchor="middle" fill="#222">4</text>
<text x="453.3" y="1475.4" font-family='"Liberation Sans", sans-serif' font-size="14.8" font-weight="normal" text-anchor="middle" fill="#222">5</text>
<text x="519.9" y="1475.4" font-family='"Liberation Sans", sans-serif' font-size="14.8" font-weight="normal" text-anchor="middle" fill="#222">6</text>
<text x="586.5" y="1475.4" font-family='"Liberation Sans", sans-serif' font-size="14.8" font-weight="normal" text-anchor="middle" fill="#222">7</text>
<path d="M179.9 1489.9H193.9M186.9 1482.9V1496.9M246.5 1489.9H260.5M253.5 1482.9V1496.9M313.1 1489.9H327.1M320.1 1482.9V1496.9M379.7 1489.9H393.7M386.7 1482.9V1496.9M446.3 1489.9H460.3M453.3 1482.9V1496.9M512.9 1489.9H526.9M519.9 1482.9V1496.9M579.5 1489.9H593.5M586.5 1482.9V1496.9" stroke="#111" stroke-width="1.6" fill="none"/>
<path d="M237.7 1516.1H384.1" stroke="#a878bb" stroke-width="2.0" fill="none"/>
<path d="M384.1 1516.1H514.2" stroke="#8cd4f2" stroke-width="2.0" fill="none"/>
<path d="M283.8 1533.4H467.3" stroke="#a3cb7c" stroke-width="2.0" fill="none"/>
<text x="179.7" y="1551.2" font-family='"Liberation Sans", sans-serif' font-size="21.8" font-weight="normal" text-anchor="end" fill="#1a1a1a" textLength="62.27" lengthAdjust="spacingAndGlyphs">QSVM</text>
<text x="179.7" y="1594.9" font-family='"Liberation Sans", sans-serif' font-size="21.8" font-weight="normal" text-anchor="end" fill="#1a1a1a" textLength="61.09" lengthAdjust="spacingAndGlyphs">CSVM</text>
<text x="179.7" y="1638.7" font-family='"Liberation Sans", sans-serif' font-size="21.8" font-weight="normal" text-anchor="end" fill="#1a1a1a" textLength="74.08" lengthAdjust="spacingAndGlyphs">LogReg</text>
<text x="179.7" y="1682.5" font-family='"Liberation Sans", sans-serif' font-size="21.8" font-weight="normal" text-anchor="end" fill="#1a1a1a" textLength="57.58" lengthAdjust="spacingAndGlyphs">LSVM</text>
<text x="593.8" y="1551.2" font-family='"Liberation Sans", sans-serif' font-size="21.8" font-weight="normal" text-anchor="start" fill="#1a1a1a" textLength="62.27" lengthAdjust="spacingAndGlyphs">GSVM</text>
<text x="593.8" y="1594.9" font-family='"Liberation Sans", sans-serif' font-size="21.8" font-weight="normal" text-anchor="start" fill="#1a1a1a" textLength="41.14" lengthAdjust="spacingAndGlyphs">LDA</text>
<text x="593.8" y="1638.7" font-family='"Liberation Sans", sans-serif' font-size="21.8" font-weight="normal" text-anchor="start" fill="#1a1a1a" textLength="28.19" lengthAdjust="spacingAndGlyphs">RF</text>
<path d="M237.7 1498.9V1542.6H187.9M283.8 1498.9V1586.3H187.9M384.1 1498.9V1630.1H187.9M394 1498.9V1673.9H187.9M514.2 1498.9V1542.6H586M467.3 1498.9V1586.3H586M430.7 1498.9V1630.1H586" stroke="#ff5e5e" stroke-width="2.1" fill="none"/>
<circle cx="237.7" cy="1489.9" r="2.3" fill="#ff0000"/>
<circle cx="283.8" cy="1489.9" r="2.3" fill="#ff0000"/>
<circle cx="384.1" cy="1489.9" r="2.3" fill="#ff0000"/>
<circle cx="394" cy="1489.9" r="2.3" fill="#ff0000"/>
<circle cx="514.2" cy="1489.9" r="2.3" fill="#ff0000"/>
<circle cx="467.3" cy="1489.9" r="2.3" fill="#ff0000"/>
<circle cx="430.7" cy="1489.9" r="2.3" fill="#ff0000"/>
<text x="353.86" y="1720.2" font-family='"Liberation Serif", serif' font-size="38.02" font-weight="bold" text-anchor="start" fill="#000" textLength="22.27" lengthAdjust="spacingAndGlyphs">P</text>
<text x="373.36" y="1728.3" font-family='"Liberation Serif", serif' font-size="30.85" font-weight="bold" text-anchor="start" fill="#000" textLength="55.7" lengthAdjust="spacingAndGlyphs">max</text>
<path d="M186.9 1744.3H378.2M186.9 1742.3V1746.3M378.2 1742.3V1746.3" stroke="#4f9ed6" stroke-width="2" fill="none"/>
<text x="187.9" y="1735.8" font-family='"Liberation Sans", sans-serif' font-size="21.5" font-weight="normal" text-anchor="start" fill="#2c86ca" textLength="29.5" lengthAdjust="spacingAndGlyphs">CD</text>
<path d="M179.9 1788.6H593.5" stroke="#6e6e6e" stroke-width="1.9" fill="none"/>
<text x="186.9" y="1774.1" font-family='"Liberation Sans", sans-serif' font-size="14.8" font-weight="normal" text-anchor="middle" fill="#222">1</text>
<text x="253.5" y="1774.1" font-family='"Liberation Sans", sans-serif' font-size="14.8" font-weight="normal" text-anchor="middle" fill="#222">2</text>
<text x="320.1" y="1774.1" font-family='"Liberation Sans", sans-serif' font-size="14.8" font-weight="normal" text-anchor="middle" fill="#222">3</text>
<text x="386.7" y="1774.1" font-family='"Liberation Sans", sans-serif' font-size="14.8" font-weight="normal" text-anchor="middle" fill="#222">4</text>
<text x="453.3" y="1774.1" font-family='"Liberation Sans", sans-serif' font-size="14.8" font-weight="normal" text-anchor="middle" fill="#222">5</text>
<text x="519.9" y="1774.1" font-family='"Liberation Sans", sans-serif' font-size="14.8" font-weight="normal" text-anchor="middle" fill="#222">6</text>
<text x="586.5" y="1774.1" font-family='"Liberation Sans", sans-serif' font-size="14.8" font-weight="normal" text-anchor="middle" fill="#222">7</text>
<path d="M179.9 1788.6H193.9M186.9 1781.6V1795.6M246.5 1788.6H260.5M253.5 1781.6V1795.6M313.1 1788.6H327.1M320.1 1781.6V1795.6M379.7 1788.6H393.7M386.7 1781.6V1795.6M446.3 1788.6H460.3M453.3 1781.6V1795.6M512.9 1788.6H526.9M519.9 1781.6V1795.6M579.5 1788.6H593.5M586.5 1781.6V1795.6" stroke="#111" stroke-width="1.6" fill="none"/>
<path d="M277.3 1814.5H453.9" stroke="#a878bb" stroke-width="2.0" fill="none"/>
<path d="M373.8 1831.3H503.4" stroke="#a3cb7c" stroke-width="2.0" fill="none"/>
<text x="179.7" y="1849.3" font-family='"Liberation Sans", sans-serif' font-size="21.8" font-weight="normal" text-anchor="end" fill="#1a1a1a" textLength="61.09" lengthAdjust="spacingAndGlyphs">CSVM</text>
<text x="179.7" y="1893.3" font-family='"Liberation Sans", sans-serif' font-size="21.8" font-weight="normal" text-anchor="end" fill="#1a1a1a" textLength="62.27" lengthAdjust="spacingAndGlyphs">QSVM</text>
<text x="179.7" y="1936.8" font-family='"Liberation Sans", sans-serif' font-size="21.8" font-weight="normal" text-anchor="end" fill="#1a1a1a" textLength="62.27" lengthAdjust="spacingAndGlyphs">GSVM</text>
<text x="179.7" y="1980.7" font-family='"Liberation Sans", sans-serif' font-size="21.8" font-weight="normal" text-anchor="end" fill="#1a1a1a" textLength="28.19" lengthAdjust="spacingAndGlyphs">RF</text>
<text x="593.8" y="1849.3" font-family='"Liberation Sans", sans-serif' font-size="21.8" font-weight="normal" text-anchor="start" fill="#1a1a1a" textLength="74.08" lengthAdjust="spacingAndGlyphs">LogReg</text>
<text x="593.8" y="1893.3" font-family='"Liberation Sans", sans-serif' font-size="21.8" font-weight="normal" text-anchor="start" fill="#1a1a1a" textLength="41.14" lengthAdjust="spacingAndGlyphs">LDA</text>
<text x="593.8" y="1936.8" font-family='"Liberation Sans", sans-serif' font-size="21.8" font-weight="normal" text-anchor="start" fill="#1a1a1a" textLength="57.58" lengthAdjust="spacingAndGlyphs">LSVM</text>
<path d="M277.3 1797.6V1840.7H187.9M290.3 1797.6V1884.7H187.9M373.8 1797.6V1928.2H187.9M394 1797.6V1972.1H187.9M503.4 1797.6V1840.7H586M453.9 1797.6V1884.7H586M417.3 1797.6V1928.2H586" stroke="#ff5e5e" stroke-width="2.1" fill="none"/>
<circle cx="277.3" cy="1788.6" r="2.3" fill="#ff0000"/>
<circle cx="290.3" cy="1788.6" r="2.3" fill="#ff0000"/>
<circle cx="373.8" cy="1788.6" r="2.3" fill="#ff0000"/>
<circle cx="394" cy="1788.6" r="2.3" fill="#ff0000"/>
<circle cx="503.4" cy="1788.6" r="2.3" fill="#ff0000"/>
<circle cx="453.9" cy="1788.6" r="2.3" fill="#ff0000"/>
<circle cx="417.3" cy="1788.6" r="2.3" fill="#ff0000"/>
<text x="355.23" y="2019.8" font-family='"Liberation Serif", serif' font-size="37.71" font-weight="bold" text-anchor="start" fill="#000" textLength="23.52" lengthAdjust="spacingAndGlyphs">R</text>
<text x="381.27" y="2027.7" font-family='"Liberation Serif", serif' font-size="30.85" font-weight="bold" text-anchor="start" fill="#000" textLength="55.6" lengthAdjust="spacingAndGlyphs">max</text>
<path d="M187.5 2053.3H377.7M187.5 2051.3V2055.3M377.7 2051.3V2055.3" stroke="#4f9ed6" stroke-width="2" fill="none"/>
<text x="188.5" y="2045.06" font-family='"Liberation Sans", sans-serif' font-size="20.86" font-weight="normal" text-anchor="start" fill="#2c86ca" textLength="28.62" lengthAdjust="spacingAndGlyphs">CD</text>
<path d="M180.5 2095.9H594.1" stroke="#6e6e6e" stroke-width="1.9" fill="none"/>
<text x="187.5" y="2081.84" font-family='"Liberation Sans", sans-serif' font-size="14.36" font-weight="normal" text-anchor="middle" fill="#222">1</text>
<text x="254.1" y="2081.84" font-family='"Liberation Sans", sans-serif' font-size="14.36" font-weight="normal" text-anchor="middle" fill="#222">2</text>
<text x="320.7" y="2081.84" font-family='"Liberation Sans", sans-serif' font-size="14.36" font-weight="normal" text-anchor="middle" fill="#222">3</text>
<text x="387.3" y="2081.84" font-family='"Liberation Sans", sans-serif' font-size="14.36" font-weight="normal" text-anchor="middle" fill="#222">4</text>
<text x="453.9" y="2081.84" font-family='"Liberation Sans", sans-serif' font-size="14.36" font-weight="normal" text-anchor="middle" fill="#222">5</text>
<text x="520.5" y="2081.84" font-family='"Liberation Sans", sans-serif' font-size="14.36" font-weight="normal" text-anchor="middle" fill="#222">6</text>
<text x="587.1" y="2081.84" font-family='"Liberation Sans", sans-serif' font-size="14.36" font-weight="normal" text-anchor="middle" fill="#222">7</text>
<path d="M180.5 2095.9H194.5M187.5 2088.9V2102.9M247.1 2095.9H261.1M254.1 2088.9V2102.9M313.7 2095.9H327.7M320.7 2088.9V2102.9M380.3 2095.9H394.3M387.3 2088.9V2102.9M446.9 2095.9H460.9M453.9 2088.9V2102.9M513.5 2095.9H527.5M520.5 2088.9V2102.9M580.1 2095.9H594.1M587.1 2088.9V2102.9" stroke="#111" stroke-width="1.6" fill="none"/>
<path d="M244.2 2120.1H420.7" stroke="#a878bb" stroke-width="2.0" fill="none"/>
<path d="M345 2136.9H527.6" stroke="#a3cb7c" stroke-width="2.0" fill="none"/>
<text x="180.52" y="2153.34" font-family='"Liberation Sans", sans-serif' font-size="21.15" font-weight="normal" text-anchor="end" fill="#1a1a1a" textLength="71.85" lengthAdjust="spacingAndGlyphs">LogReg</text>
<text x="180.52" y="2196.44" font-family='"Liberation Sans", sans-serif' font-size="21.15" font-weight="normal" text-anchor="end" fill="#1a1a1a" textLength="60.4" lengthAdjust="spacingAndGlyphs">QSVM</text>
<text x="180.52" y="2237.34" font-family='"Liberation Sans", sans-serif' font-size="21.15" font-weight="normal" text-anchor="end" fill="#1a1a1a" textLength="59.26" lengthAdjust="spacingAndGlyphs">CSVM</text>
<text x="180.52" y="2279.14" font-family='"Liberation Sans", sans-serif' font-size="21.15" font-weight="normal" text-anchor="end" fill="#1a1a1a" textLength="27.34" lengthAdjust="spacingAndGlyphs">RF</text>
<text x="594.18" y="2153.34" font-family='"Liberation Sans", sans-serif' font-size="21.15" font-weight="normal" text-anchor="start" fill="#1a1a1a" textLength="60.4" lengthAdjust="spacingAndGlyphs">GSVM</text>
<text x="594.18" y="2196.44" font-family='"Liberation Sans", sans-serif' font-size="21.15" font-weight="normal" text-anchor="start" fill="#1a1a1a" textLength="39.9" lengthAdjust="spacingAndGlyphs">LDA</text>
<text x="594.18" y="2237.34" font-family='"Liberation Sans", sans-serif' font-size="21.15" font-weight="normal" text-anchor="start" fill="#1a1a1a" textLength="55.86" lengthAdjust="spacingAndGlyphs">LSVM</text>
<path d="M244.2 2104.63V2145H188.5M267.9 2104.63V2188.1H188.5M345 2104.63V2229H188.5M414.3 2104.63V2270.8H188.5M527.6 2104.63V2145H586.6M494 2104.63V2188.1H586.6M420.7 2104.63V2229H586.6" stroke="#ff5e5e" stroke-width="2.1" fill="none"/>
<circle cx="244.2" cy="2095.9" r="2.3" fill="#ff0000"/>
<circle cx="267.9" cy="2095.9" r="2.3" fill="#ff0000"/>
<circle cx="345" cy="2095.9" r="2.3" fill="#ff0000"/>
<circle cx="414.3" cy="2095.9" r="2.3" fill="#ff0000"/>
<circle cx="527.6" cy="2095.9" r="2.3" fill="#ff0000"/>
<circle cx="494" cy="2095.9" r="2.3" fill="#ff0000"/>
<circle cx="420.7" cy="2095.9" r="2.3" fill="#ff0000"/>
<text x="1068.57" y="1131.5" font-family='"Liberation Serif", serif' font-size="38.79" font-weight="bold" text-anchor="start" fill="#000" textLength="72.18" lengthAdjust="spacingAndGlyphs">AUC</text>
<path d="M893.1 1166H1083.4M893.1 1164V1168M1083.4 1164V1168" stroke="#4f9ed6" stroke-width="2" fill="none"/>
<text x="894.1" y="1157.5" font-family='"Liberation Sans", sans-serif' font-size="21.5" font-weight="normal" text-anchor="start" fill="#2c86ca" textLength="29.5" lengthAdjust="spacingAndGlyphs">CD</text>
<path d="M886.1 1211H1298.5" stroke="#6e6e6e" stroke-width="1.9" fill="none"/>
<text x="893.1" y="1196.5" font-family='"Liberation Sans", sans-serif' font-size="14.8" font-weight="normal" text-anchor="middle" fill="#222">1</text>
<text x="959.5" y="1196.5" font-family='"Liberation Sans", sans-serif' font-size="14.8" font-weight="normal" text-anchor="middle" fill="#222">2</text>
<text x="1025.9" y="1196.5" font-family='"Liberation Sans", sans-serif' font-size="14.8" font-weight="normal" text-anchor="middle" fill="#222">3</text>
<text x="1092.3" y="1196.5" font-family='"Liberation Sans", sans-serif' font-size="14.8" font-weight="normal" text-anchor="middle" fill="#222">4</text>
<text x="1158.7" y="1196.5" font-family='"Liberation Sans", sans-serif' font-size="14.8" font-weight="normal" text-anchor="middle" fill="#222">5</text>
<text x="1225.1" y="1196.5" font-family='"Liberation Sans", sans-serif' font-size="14.8" font-weight="normal" text-anchor="middle" fill="#222">6</text>
<text x="1291.5" y="1196.5" font-family='"Liberation Sans", sans-serif' font-size="14.8" font-weight="normal" text-anchor="middle" fill="#222">7</text>
<path d="M886.1 1211H900.1M893.1 1204V1218M952.5 1211H966.5M959.5 1204V1218M1018.9 1211H1032.9M1025.9 1204V1218M1085.3 1211H1099.3M1092.3 1204V1218M1151.7 1211H1165.7M1158.7 1204V1218M1218.1 1211H1232.1M1225.1 1204V1218M1284.5 1211H1298.5M1291.5 1204V1218" stroke="#111" stroke-width="1.6" fill="none"/>
<path d="M943.7 1236.3H1090.3" stroke="#a878bb" stroke-width="2.0" fill="none"/>
<path d="M1090.3 1236.3H1219.5" stroke="#8cd4f2" stroke-width="2.0" fill="none"/>
<path d="M989.7 1253.3H1173.1" stroke="#a3cb7c" stroke-width="2.0" fill="none"/>
<text x="885.9" y="1271.1" font-family='"Liberation Sans", sans-serif' font-size="21.8" font-weight="normal" text-anchor="end" fill="#1a1a1a" textLength="62.27" lengthAdjust="spacingAndGlyphs">QSVM</text>
<text x="885.9" y="1314.8" font-family='"Liberation Sans", sans-serif' font-size="21.8" font-weight="normal" text-anchor="end" fill="#1a1a1a" textLength="61.09" lengthAdjust="spacingAndGlyphs">CSVM</text>
<text x="885.9" y="1358.5" font-family='"Liberation Sans", sans-serif' font-size="21.8" font-weight="normal" text-anchor="end" fill="#1a1a1a" textLength="74.08" lengthAdjust="spacingAndGlyphs">LogReg</text>
<text x="885.9" y="1402.2" font-family='"Liberation Sans", sans-serif' font-size="21.8" font-weight="normal" text-anchor="end" fill="#1a1a1a" textLength="57.58" lengthAdjust="spacingAndGlyphs">LSVM</text>
<text x="1298.8" y="1271.1" font-family='"Liberation Sans", sans-serif' font-size="21.8" font-weight="normal" text-anchor="start" fill="#1a1a1a" textLength="62.27" lengthAdjust="spacingAndGlyphs">GSVM</text>
<text x="1298.8" y="1314.8" font-family='"Liberation Sans", sans-serif' font-size="21.8" font-weight="normal" text-anchor="start" fill="#1a1a1a" textLength="41.14" lengthAdjust="spacingAndGlyphs">LDA</text>
<text x="1298.8" y="1358.5" font-family='"Liberation Sans", sans-serif' font-size="21.8" font-weight="normal" text-anchor="start" fill="#1a1a1a" textLength="28.19" lengthAdjust="spacingAndGlyphs">RF</text>
<path d="M943.7 1220V1262.5H894.1M989.7 1220V1306.2H894.1M1090.3 1220V1349.9H894.1M1099.5 1220V1393.6H894.1M1219.5 1220V1262.5H1291M1173.1 1220V1306.2H1291M1136.3 1220V1349.9H1291" stroke="#ff5e5e" stroke-width="2.1" fill="none"/>
<circle cx="943.7" cy="1211" r="2.3" fill="#ff0000"/>
<circle cx="989.7" cy="1211" r="2.3" fill="#ff0000"/>
<circle cx="1090.3" cy="1211" r="2.3" fill="#ff0000"/>
<circle cx="1099.5" cy="1211" r="2.3" fill="#ff0000"/>
<circle cx="1219.5" cy="1211" r="2.3" fill="#ff0000"/>
<circle cx="1173.1" cy="1211" r="2.3" fill="#ff0000"/>
<circle cx="1136.3" cy="1211" r="2.3" fill="#ff0000"/>
<text x="1089.52" y="1435.5" font-family='"Liberation Serif", serif' font-size="37.86" font-weight="bold" text-anchor="start" fill="#000" textLength="20.18" lengthAdjust="spacingAndGlyphs">F</text>
<text x="1107.27" y="1443.3" font-family='"Liberation Serif", serif' font-size="30.64" font-weight="bold" text-anchor="start" fill="#000" textLength="55.5" lengthAdjust="spacingAndGlyphs">max</text>
<path d="M903.5 1474.1H1084.2M903.5 1472.1V1476.1M1084.2 1472.1V1476.1" stroke="#4f9ed6" stroke-width="2" fill="none"/>
<text x="904.5" y="1466.02" font-family='"Liberation Sans", sans-serif' font-size="20.43" font-weight="normal" text-anchor="start" fill="#2c86ca" textLength="28.03" lengthAdjust="spacingAndGlyphs">CD</text>
<path d="M896.5 1515.2H1288.98" stroke="#6e6e6e" stroke-width="1.9" fill="none"/>
<text x="903.5" y="1501.42" font-family='"Liberation Sans", sans-serif' font-size="14.06" font-weight="normal" text-anchor="middle" fill="#222">1</text>
<text x="966.58" y="1501.42" font-family='"Liberation Sans", sans-serif' font-size="14.06" font-weight="normal" text-anchor="middle" fill="#222">2</text>
<text x="1029.66" y="1501.42" font-family='"Liberation Sans", sans-serif' font-size="14.06" font-weight="normal" text-anchor="middle" fill="#222">3</text>
<text x="1092.74" y="1501.42" font-family='"Liberation Sans", sans-serif' font-size="14.06" font-weight="normal" text-anchor="middle" fill="#222">4</text>
<text x="1155.82" y="1501.42" font-family='"Liberation Sans", sans-serif' font-size="14.06" font-weight="normal" text-anchor="middle" fill="#222">5</text>
<text x="1218.9" y="1501.42" font-family='"Liberation Sans", sans-serif' font-size="14.06" font-weight="normal" text-anchor="middle" fill="#222">6</text>
<text x="1281.98" y="1501.42" font-family='"Liberation Sans", sans-serif' font-size="14.06" font-weight="normal" text-anchor="middle" fill="#222">7</text>
<path d="M896.5 1515.2H910.5M903.5 1508.2V1522.2M959.58 1515.2H973.58M966.58 1508.2V1522.2M1022.66 1515.2H1036.66M1029.66 1508.2V1522.2M1085.74 1515.2H1099.74M1092.74 1508.2V1522.2M1148.82 1515.2H1162.82M1155.82 1508.2V1522.2M1211.9 1515.2H1225.9M1218.9 1508.2V1522.2M1274.98 1515.2H1288.98M1281.98 1508.2V1522.2" stroke="#111" stroke-width="1.6" fill="none"/>
<path d="M967 1539.7H1119" stroke="#a878bb" stroke-width="2.0" fill="none"/>
<path d="M989.4 1556.6H1159.6" stroke="#a3cb7c" stroke-width="2.0" fill="none"/>
<text x="896.66" y="1573.27" font-family='"Liberation Sans", sans-serif' font-size="20.71" font-weight="normal" text-anchor="end" fill="#1a1a1a" textLength="59.16" lengthAdjust="spacingAndGlyphs">QSVM</text>
<text x="896.66" y="1614.77" font-family='"Liberation Sans", sans-serif' font-size="20.71" font-weight="normal" text-anchor="end" fill="#1a1a1a" textLength="58.04" lengthAdjust="spacingAndGlyphs">CSVM</text>
<text x="896.66" y="1655.87" font-family='"Liberation Sans", sans-serif' font-size="20.71" font-weight="normal" text-anchor="end" fill="#1a1a1a" textLength="54.7" lengthAdjust="spacingAndGlyphs">LSVM</text>
<text x="896.66" y="1697.37" font-family='"Liberation Sans", sans-serif' font-size="20.71" font-weight="normal" text-anchor="end" fill="#1a1a1a" textLength="26.78" lengthAdjust="spacingAndGlyphs">RF</text>
<text x="1288.91" y="1573.27" font-family='"Liberation Sans", sans-serif' font-size="20.71" font-weight="normal" text-anchor="start" fill="#1a1a1a" textLength="59.16" lengthAdjust="spacingAndGlyphs">GSVM</text>
<text x="1288.91" y="1614.77" font-family='"Liberation Sans", sans-serif' font-size="20.71" font-weight="normal" text-anchor="start" fill="#1a1a1a" textLength="70.37" lengthAdjust="spacingAndGlyphs">LogReg</text>
<text x="1288.91" y="1655.87" font-family='"Liberation Sans", sans-serif' font-size="20.71" font-weight="normal" text-anchor="start" fill="#1a1a1a" textLength="39.08" lengthAdjust="spacingAndGlyphs">LDA</text>
<path d="M967 1523.75V1565.1H904.5M989.4 1523.75V1606.6H904.5M1105.8 1523.75V1647.7H904.5M1119 1523.75V1689.2H904.5M1159.6 1523.75V1565.1H1281.48M1159.6 1523.75V1606.6H1281.48M1152.8 1523.75V1647.7H1281.48" stroke="#ff5e5e" stroke-width="2.1" fill="none"/>
<circle cx="967" cy="1515.2" r="2.3" fill="#ff0000"/>
<circle cx="989.4" cy="1515.2" r="2.3" fill="#ff0000"/>
<circle cx="1105.8" cy="1515.2" r="2.3" fill="#ff0000"/>
<circle cx="1119" cy="1515.2" r="2.3" fill="#ff0000"/>
<circle cx="1159.6" cy="1515.2" r="2.3" fill="#ff0000"/>
<circle cx="1159.6" cy="1515.2" r="2.3" fill="#ff0000"/>
<circle cx="1152.8" cy="1515.2" r="2.3" fill="#ff0000"/>
<text x="1089.47" y="1730" font-family='"Liberation Serif", serif' font-size="38.02" font-weight="bold" text-anchor="start" fill="#000" textLength="22.06" lengthAdjust="spacingAndGlyphs">P</text>
<text x="1109.68" y="1738.2" font-family='"Liberation Serif", serif' font-size="30.43" font-weight="bold" text-anchor="start" fill="#000" textLength="54.89" lengthAdjust="spacingAndGlyphs">max</text>
<path d="M903.5 1754.6H1084.2M903.5 1752.6V1756.6M1084.2 1752.6V1756.6" stroke="#4f9ed6" stroke-width="2" fill="none"/>
<text x="904.5" y="1746.52" font-family='"Liberation Sans", sans-serif' font-size="20.43" font-weight="normal" text-anchor="start" fill="#2c86ca" textLength="28.03" lengthAdjust="spacingAndGlyphs">CD</text>
<path d="M896.5 1797H1288.98" stroke="#6e6e6e" stroke-width="1.9" fill="none"/>
<text x="903.5" y="1783.22" font-family='"Liberation Sans", sans-serif' font-size="14.06" font-weight="normal" text-anchor="middle" fill="#222">1</text>
<text x="966.58" y="1783.22" font-family='"Liberation Sans", sans-serif' font-size="14.06" font-weight="normal" text-anchor="middle" fill="#222">2</text>
<text x="1029.66" y="1783.22" font-family='"Liberation Sans", sans-serif' font-size="14.06" font-weight="normal" text-anchor="middle" fill="#222">3</text>
<text x="1092.74" y="1783.22" font-family='"Liberation Sans", sans-serif' font-size="14.06" font-weight="normal" text-anchor="middle" fill="#222">4</text>
<text x="1155.82" y="1783.22" font-family='"Liberation Sans", sans-serif' font-size="14.06" font-weight="normal" text-anchor="middle" fill="#222">5</text>
<text x="1218.9" y="1783.22" font-family='"Liberation Sans", sans-serif' font-size="14.06" font-weight="normal" text-anchor="middle" fill="#222">6</text>
<text x="1281.98" y="1783.22" font-family='"Liberation Sans", sans-serif' font-size="14.06" font-weight="normal" text-anchor="middle" fill="#222">7</text>
<path d="M896.5 1797H910.5M903.5 1790V1804M959.58 1797H973.58M966.58 1790V1804M1022.66 1797H1036.66M1029.66 1790V1804M1085.74 1797H1099.74M1092.74 1790V1804M1148.82 1797H1162.82M1155.82 1790V1804M1211.9 1797H1225.9M1218.9 1790V1804M1274.98 1797H1288.98M1281.98 1790V1804" stroke="#111" stroke-width="1.6" fill="none"/>
<path d="M980.1 1821.5H1149.9" stroke="#a878bb" stroke-width="2.0" fill="none"/>
<path d="M1068.6 1837.6H1219.7" stroke="#a3cb7c" stroke-width="2.0" fill="none"/>
<text x="896.66" y="1854.27" font-family='"Liberation Sans", sans-serif' font-size="20.71" font-weight="normal" text-anchor="end" fill="#1a1a1a" textLength="58.04" lengthAdjust="spacingAndGlyphs">CSVM</text>
<text x="896.66" y="1896.57" font-family='"Liberation Sans", sans-serif' font-size="20.71" font-weight="normal" text-anchor="end" fill="#1a1a1a" textLength="59.16" lengthAdjust="spacingAndGlyphs">QSVM</text>
<text x="896.66" y="1938.07" font-family='"Liberation Sans", sans-serif' font-size="20.71" font-weight="normal" text-anchor="end" fill="#1a1a1a" textLength="59.16" lengthAdjust="spacingAndGlyphs">GSVM</text>
<text x="896.66" y="1979.17" font-family='"Liberation Sans", sans-serif' font-size="20.71" font-weight="normal" text-anchor="end" fill="#1a1a1a" textLength="26.78" lengthAdjust="spacingAndGlyphs">RF</text>
<text x="1288.91" y="1854.27" font-family='"Liberation Sans", sans-serif' font-size="20.71" font-weight="normal" text-anchor="start" fill="#1a1a1a" textLength="70.37" lengthAdjust="spacingAndGlyphs">LogReg</text>
<text x="1288.91" y="1896.57" font-family='"Liberation Sans", sans-serif' font-size="20.71" font-weight="normal" text-anchor="start" fill="#1a1a1a" textLength="39.08" lengthAdjust="spacingAndGlyphs">LDA</text>
<text x="1288.91" y="1938.07" font-family='"Liberation Sans", sans-serif' font-size="20.71" font-weight="normal" text-anchor="start" fill="#1a1a1a" textLength="54.7" lengthAdjust="spacingAndGlyphs">LSVM</text>
<path d="M980.1 1805.55V1846.1H904.5M1030.5 1805.55V1888.4H904.5M1068.6 1805.55V1929.9H904.5M1071.5 1805.55V1971H904.5M1219.7 1805.55V1846.1H1281.48M1149.9 1805.55V1888.4H1281.48M1134.2 1805.55V1929.9H1281.48" stroke="#ff5e5e" stroke-width="2.1" fill="none"/>
<circle cx="980.1" cy="1797" r="2.3" fill="#ff0000"/>
<circle cx="1030.5" cy="1797" r="2.3" fill="#ff0000"/>
<circle cx="1068.6" cy="1797" r="2.3" fill="#ff0000"/>
<circle cx="1071.5" cy="1797" r="2.3" fill="#ff0000"/>
<circle cx="1219.7" cy="1797" r="2.3" fill="#ff0000"/>
<circle cx="1149.9" cy="1797" r="2.3" fill="#ff0000"/>
<circle cx="1134.2" cy="1797" r="2.3" fill="#ff0000"/>
<text x="1088.23" y="2026.8" font-family='"Liberation Serif", serif' font-size="38.17" font-weight="bold" text-anchor="start" fill="#000" textLength="23.52" lengthAdjust="spacingAndGlyphs">R</text>
<text x="1114.27" y="2034.8" font-family='"Liberation Serif", serif' font-size="30.21" font-weight="bold" text-anchor="start" fill="#000" textLength="55.3" lengthAdjust="spacingAndGlyphs">max</text>
<path d="M914.9 2064.1H1095.7M914.9 2062.1V2066.1M1095.7 2062.1V2066.1" stroke="#4f9ed6" stroke-width="2" fill="none"/>
<text x="915.9" y="2056.03" font-family='"Liberation Sans", sans-serif' font-size="20.43" font-weight="normal" text-anchor="start" fill="#2c86ca" textLength="28.03" lengthAdjust="spacingAndGlyphs">CD</text>
<path d="M907.9 2105.2H1299.9" stroke="#6e6e6e" stroke-width="1.9" fill="none"/>
<text x="914.9" y="2091.42" font-family='"Liberation Sans", sans-serif' font-size="14.06" font-weight="normal" text-anchor="middle" fill="#222">1</text>
<text x="977.9" y="2091.42" font-family='"Liberation Sans", sans-serif' font-size="14.06" font-weight="normal" text-anchor="middle" fill="#222">2</text>
<text x="1040.9" y="2091.42" font-family='"Liberation Sans", sans-serif' font-size="14.06" font-weight="normal" text-anchor="middle" fill="#222">3</text>
<text x="1103.9" y="2091.42" font-family='"Liberation Sans", sans-serif' font-size="14.06" font-weight="normal" text-anchor="middle" fill="#222">4</text>
<text x="1166.9" y="2091.42" font-family='"Liberation Sans", sans-serif' font-size="14.06" font-weight="normal" text-anchor="middle" fill="#222">5</text>
<text x="1229.9" y="2091.42" font-family='"Liberation Sans", sans-serif' font-size="14.06" font-weight="normal" text-anchor="middle" fill="#222">6</text>
<text x="1292.9" y="2091.42" font-family='"Liberation Sans", sans-serif' font-size="14.06" font-weight="normal" text-anchor="middle" fill="#222">7</text>
<path d="M907.9 2105.2H921.9M914.9 2098.2V2112.2M970.9 2105.2H984.9M977.9 2098.2V2112.2M1033.9 2105.2H1047.9M1040.9 2098.2V2112.2M1096.9 2105.2H1110.9M1103.9 2098.2V2112.2M1159.9 2105.2H1173.9M1166.9 2098.2V2112.2M1222.9 2105.2H1236.9M1229.9 2098.2V2112.2M1285.9 2105.2H1299.9M1292.9 2098.2V2112.2" stroke="#111" stroke-width="1.6" fill="none"/>
<path d="M969.1 2129.7H1076.6" stroke="#a878bb" stroke-width="2.0" fill="none"/>
<path d="M1076.6 2129.7H1246.4" stroke="#8cd4f2" stroke-width="2.0" fill="none"/>
<path d="M997.5 2146.6H1161.7" stroke="#a3cb7c" stroke-width="2.0" fill="none"/>
<text x="908.06" y="2163.27" font-family='"Liberation Sans", sans-serif' font-size="20.71" font-weight="normal" text-anchor="end" fill="#1a1a1a" textLength="70.37" lengthAdjust="spacingAndGlyphs">LogReg</text>
<text x="908.06" y="2204.77" font-family='"Liberation Sans", sans-serif' font-size="20.71" font-weight="normal" text-anchor="end" fill="#1a1a1a" textLength="59.16" lengthAdjust="spacingAndGlyphs">QSVM</text>
<text x="908.06" y="2245.87" font-family='"Liberation Sans", sans-serif' font-size="20.71" font-weight="normal" text-anchor="end" fill="#1a1a1a" textLength="58.04" lengthAdjust="spacingAndGlyphs">CSVM</text>
<text x="908.06" y="2287.37" font-family='"Liberation Sans", sans-serif' font-size="20.71" font-weight="normal" text-anchor="end" fill="#1a1a1a" textLength="26.78" lengthAdjust="spacingAndGlyphs">RF</text>
<text x="1299.84" y="2163.27" font-family='"Liberation Sans", sans-serif' font-size="20.71" font-weight="normal" text-anchor="start" fill="#1a1a1a" textLength="59.16" lengthAdjust="spacingAndGlyphs">GSVM</text>
<text x="1299.84" y="2204.77" font-family='"Liberation Sans", sans-serif' font-size="20.71" font-weight="normal" text-anchor="start" fill="#1a1a1a" textLength="54.7" lengthAdjust="spacingAndGlyphs">LSVM</text>
<text x="1299.84" y="2245.87" font-family='"Liberation Sans", sans-serif' font-size="20.71" font-weight="normal" text-anchor="start" fill="#1a1a1a" textLength="39.08" lengthAdjust="spacingAndGlyphs">LDA</text>
<path d="M969.1 2113.75V2155.1H915.9M997.5 2113.75V2196.6H915.9M1076.6 2113.75V2237.7H915.9M1129.5 2113.75V2279.2H915.9M1246.4 2113.75V2155.1H1292.4M1161.7 2113.75V2196.6H1292.4M1152 2113.75V2237.7H1292.4" stroke="#ff5e5e" stroke-width="2.1" fill="none"/>
<circle cx="969.1" cy="2105.2" r="2.3" fill="#ff0000"/>
<circle cx="997.5" cy="2105.2" r="2.3" fill="#ff0000"/>
<circle cx="1076.6" cy="2105.2" r="2.3" fill="#ff0000"/>
<circle cx="1129.5" cy="2105.2" r="2.3" fill="#ff0000"/>
<circle cx="1246.4" cy="2105.2" r="2.3" fill="#ff0000"/>
<circle cx="1161.7" cy="2105.2" r="2.3" fill="#ff0000"/>
<circle cx="1152" cy="2105.2" r="2.3" fill="#ff0000"/>
</svg></body></html>
